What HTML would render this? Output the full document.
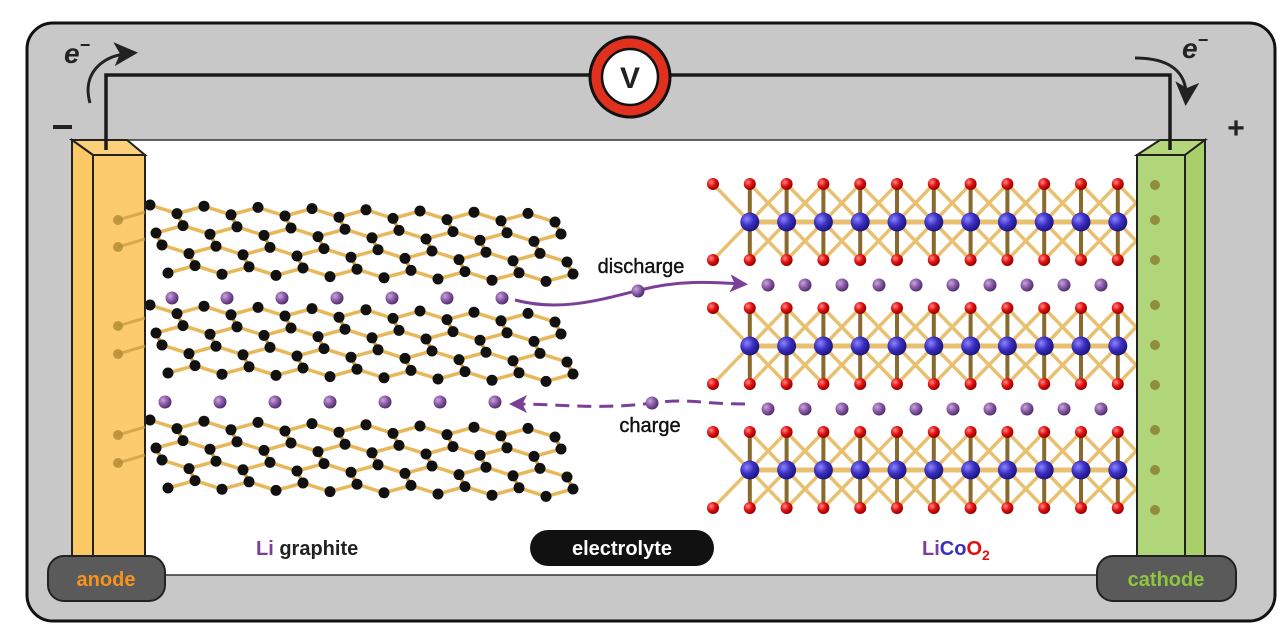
<!DOCTYPE html>
<html><head><meta charset="utf-8"><style>
html,body{margin:0;padding:0;background:#fff;width:1288px;height:642px;overflow:hidden}
svg{display:block;font-family:"Liberation Sans",sans-serif}
</style></head><body>
<svg id="s" width="1288" height="642" viewBox="0 0 1288 642">
<defs>
<radialGradient id="li" cx="35%" cy="35%" r="70%"><stop offset="0" stop-color="#c9a6d8"/><stop offset="0.5" stop-color="#8a5aa8"/><stop offset="1" stop-color="#4a2a63"/></radialGradient>
<radialGradient id="co" cx="35%" cy="35%" r="70%"><stop offset="0" stop-color="#8c84ff"/><stop offset="0.5" stop-color="#3b2fc0"/><stop offset="1" stop-color="#1a137a"/></radialGradient>
<radialGradient id="ox" cx="35%" cy="35%" r="70%"><stop offset="0" stop-color="#ff8a8a"/><stop offset="0.5" stop-color="#e41010"/><stop offset="1" stop-color="#8a0000"/></radialGradient>
<marker id="ah" markerWidth="8" markerHeight="8" refX="6" refY="4" orient="auto" markerUnits="strokeWidth"><path d="M0,0 L8,4 L0,8 L2,4 Z" fill="#222"/></marker>
<marker id="ahp" markerWidth="6" markerHeight="6" refX="4" refY="3" orient="auto" markerUnits="strokeWidth"><path d="M0,0 L6,3 L0,6 L1.5,3 Z" fill="#7b3f98"/></marker>
</defs>
<rect x="27" y="23" width="1248" height="598" rx="26" fill="#c8c8c8" stroke="#111" stroke-width="3"/>
<rect x="80" y="140" width="1110" height="435" fill="#fff" stroke="#333" stroke-width="1.5"/>
<g id="graphite"></g>
<g id="licoo2"></g>
<g>
<polygon points="72,140 127,140 145,155 93,155" fill="#fcd07a" stroke="#222" stroke-width="2"/>
<polygon points="72,140 93,155 93,575 72,575" fill="#fbc866" stroke="#222" stroke-width="2"/>
<rect x="93" y="155" width="52" height="420" fill="#fccb6e" stroke="#222" stroke-width="2"/>
</g>
<g>
<polygon points="1137,155 1185,155 1205,140 1160,140" fill="#b3d77a" stroke="#222" stroke-width="2"/>
<polygon points="1185,155 1205,140 1205,575 1185,575" fill="#a8cf6a" stroke="#222" stroke-width="2"/>
<rect x="1137" y="155" width="48" height="420" fill="#b1d67a" stroke="#222" stroke-width="2"/>
</g>
<g id="stubs"></g>
<path d="M106,150 L106,75 L1170,75 L1170,150" fill="none" stroke="#1a1a1a" stroke-width="3.5"/>
<g>
<circle cx="630" cy="77" r="40" fill="#e0301e" stroke="#111" stroke-width="3"/>
<circle cx="630" cy="77" r="28" fill="#fff" stroke="#111" stroke-width="2.5"/>
<text x="630" y="88" text-anchor="middle" font-size="30" font-weight="bold" fill="#222">V</text>
</g>
<text x="64" y="63" font-size="28" font-style="italic" font-weight="bold" fill="#222">e<tspan font-size="18" dy="-12">−</tspan></text>
<path d="M90,103 C82,75 100,55 132,53" fill="none" stroke="#222" stroke-width="3" marker-end="url(#ah)"/>
<text x="1182" y="58" font-size="28" font-style="italic" font-weight="bold" fill="#222">e<tspan font-size="18" dy="-12">−</tspan></text>
<path d="M1135,58 C1170,58 1188,72 1186,100" fill="none" stroke="#222" stroke-width="3" marker-end="url(#ah)"/>
<rect x="53" y="125" width="19" height="4" fill="#222"/>
<text x="1236" y="138" text-anchor="middle" font-size="30" font-weight="bold" fill="#222">+</text>
<path d="M515,300 C560,312 600,300 640,290 C680,280 710,282 742,284" fill="none" stroke="#7b3f98" stroke-width="3" marker-end="url(#ahp)"/>
<circle cx="638" cy="291" r="6.5" fill="url(#li)"/>
<text x="641" y="273" text-anchor="middle" font-size="20" fill="#111" stroke="#111" stroke-width="0.4">discharge</text>
<path d="M745,404 C700,404 690,398 652,403 C600,410 560,404 515,404" fill="none" stroke="#7b3f98" stroke-width="3" stroke-dasharray="14,8" marker-end="url(#ahp)"/>
<circle cx="652" cy="403" r="6.5" fill="url(#li)"/>
<text x="650" y="432" text-anchor="middle" font-size="20" fill="#111" stroke="#111" stroke-width="0.4">charge</text>
<text x="256" y="555" font-size="20" font-weight="bold" fill="#222"><tspan fill="#7b3f98">Li</tspan> graphite</text>
<rect x="530" y="530" width="184" height="36" rx="18" fill="#111"/>
<text x="622" y="555" text-anchor="middle" font-size="20" font-weight="bold" fill="#fff">electrolyte</text>
<text x="922" y="555" font-size="20" font-weight="bold"><tspan fill="#7b3f98">Li</tspan><tspan fill="#3b2fc0">Co</tspan><tspan fill="#e41010">O</tspan><tspan fill="#e41010" font-size="14" dy="5">2</tspan></text>
<rect x="48" y="556" width="117" height="45" rx="16" fill="#5a5a5a" stroke="#222" stroke-width="2"/>
<text x="106" y="586" text-anchor="middle" font-size="20" font-weight="bold" fill="#f7941d">anode</text>
<rect x="1097" y="556" width="139" height="45" rx="16" fill="#5a5a5a" stroke="#222" stroke-width="2"/>
<text x="1166" y="586" text-anchor="middle" font-size="20" font-weight="bold" fill="#8dc63f">cathode</text>
</svg>
<script>
const NS="http://www.w3.org/2000/svg";
const graphiteLayerTops=[205,305,420];
const graphiteLiRows=[298,402];
const cathodeLayerCenters=[222,346,470];
const cathodeLiRows=[285,409];
function mk(tag,attrs,parent){const e=document.createElementNS(NS,tag);for(const k in attrs)e.setAttribute(k,attrs[k]);parent.appendChild(e);return e;}
const g=document.getElementById('graphite');
graphiteLayerTops.forEach((y0,li)=>{
  const layer=mk('g',{},g);
  
  
  const rows=4,n=16,dx=27,rh=20,amp=8;
  const pts=[];
  for(let r=0;r<rows;r++){pts[r]=[];for(let i=0;i<n;i++){const x=150+i*dx+r*6;const y=y0+r*rh+((i+r)%2?amp:0)+i*0.6;pts[r].push([x,y]);}}
  for(let r=0;r<rows;r++){for(let i=0;i<n-1;i++){mk('line',{x1:pts[r][i][0],y1:pts[r][i][1],x2:pts[r][i+1][0],y2:pts[r][i+1][1],stroke:'#e8b75a','stroke-width':3.5},layer);}}
  for(let r=0;r<rows-1;r++){for(let i=0;i<n;i++){if((i+r)%2){mk('line',{x1:pts[r][i][0],y1:pts[r][i][1],x2:pts[r+1][i][0],y2:pts[r+1][i][1],stroke:'#c99a40','stroke-width':3.5},layer);}}}
  for(let r=0;r<rows;r++){for(let i=0;i<n;i++){mk('circle',{cx:pts[r][i][0],cy:pts[r][i][1],r:5.5,fill:'#111'},layer);}}
});
graphiteLiRows.forEach((y,ri)=>{for(let i=0;i<7;i++){const c=mk('circle',{cx:(ri?165:172)+i*55,cy:y,r:6.5,fill:'url(#li)'},g);}});
const c=document.getElementById('licoo2');
cathodeLayerCenters.forEach(yc=>{
  const layer=mk('g',{},c);
  
  
  const xs=[];for(let i=0;i<12;i++)xs.push(713+i*36.8);
  const yt=yc-38,yb=yc+38;
  for(let i=0;i<xs.length;i++){
    const x2=Math.min(xs[i]+73.6,1137), f=(x2-xs[i])/73.6;
    mk('line',{x1:xs[i],y1:yt,x2:x2,y2:yt+76*f,stroke:'#e8c070','stroke-width':3.5},layer);
    mk('line',{x1:xs[i],y1:yb,x2:x2,y2:yb-76*f,stroke:'#e8c070','stroke-width':3.5},layer);
  }
  mk('line',{x1:750,y1:yc,x2:1125,y2:yc,stroke:'#e8c070','stroke-width':5},layer);
  for(let i=1;i<xs.length;i++){mk('line',{x1:xs[i],y1:yt,x2:xs[i],y2:yb,stroke:'#8a6a2a','stroke-width':4},layer);}
  for(let i=0;i<xs.length;i++){mk('circle',{cx:xs[i],cy:yt,r:6,fill:'url(#ox)'},layer);mk('circle',{cx:xs[i],cy:yb,r:6,fill:'url(#ox)'},layer);}
  for(let i=1;i<xs.length;i++){mk('circle',{cx:xs[i],cy:yc,r:9.5,fill:'url(#co)'},layer);}
});
cathodeLiRows.forEach(y=>{for(let i=0;i<10;i++){const e=mk('circle',{cx:768+i*37,cy:y,r:6.5,fill:'url(#li)'},c);}});
const st=document.getElementById('stubs');
[220,247,326,354,435,463].forEach(y=>{mk('line',{x1:118,y1:y,x2:145,y2:y-8,stroke:'#c99a40','stroke-width':3,opacity:0.7},st);mk('circle',{cx:118,cy:y,r:5,fill:'#b08a30',opacity:0.8},st);});
[185,220,260,305,345,385,430,470,510].forEach(y=>{mk('circle',{cx:1155,cy:y,r:5,fill:'#8a7a30',opacity:0.8},st);});
</script>
</body></html>
